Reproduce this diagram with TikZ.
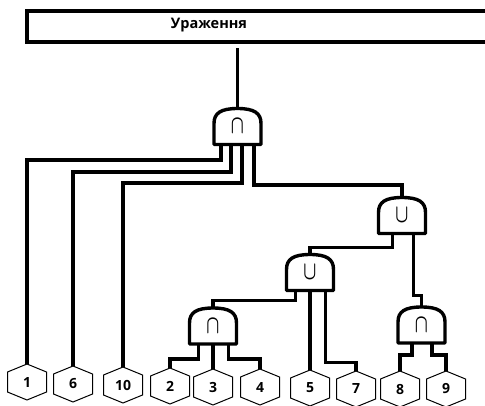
\documentclass[tikz,border=0pt]{standalone}
\usepackage{fontspec}
\setmainfont{Open Sans}
\usepackage{graphicx}
\usetikzlibrary{calc}
\newcommand\gatecap{\scalebox{1.7}[2.6]{\boldmath$\cap$}}
\newcommand\gatecup{\scalebox{1.7}[2.6]{\boldmath$\cup$}}
\begin{document}
\begin{tikzpicture}[x=1pt,y=-1pt,
  wire/.style={line width=3.2pt},
  barline/.style={line width=4pt},
  gateline/.style={line width=3.4pt, line join=round},
  hexline/.style={line width=1pt, line join=miter},
  gate/.style={minimum width=47pt, minimum height=36pt, inner sep=0pt, outer sep=0pt},
  hexn/.style={minimum width=39pt, minimum height=36pt, inner sep=0pt, outer sep=0pt,
    font=\bfseries\fontsize{14}{14}\selectfont},
  titlefont/.style={inner sep=0pt, font=\bfseries\fontsize{14.5}{14.5}\selectfont}]
\useasboundingbox (0,0) rectangle (485,405);

% title bar
\draw[barline] (485,11) -- (27,11) -- (27,42) -- (485,42);
\node[titlefont] (title) at (209,25) {Ураження};
\coordinate (barout) at (237.5,48);

% gates
\node[gate] (g1) at (237.5,126.5) {\gatecap};
\node[gate] (u1) at (402,215.5) {\gatecup};
\node[gate] (u2) at (310,272.5) {\gatecup};
\node[gate] (a2) at (213,326) {\gatecap};
\node[gate] (a3) at (421.5,325) {\gatecap};

% leaves
\node[hexn] (h1) at (27,382) {1};
\node[hexn] (h6) at (73,384) {6};
\node[hexn] (h10) at (123,385) {10};
\node[hexn] (h2) at (170,386) {2};
\node[hexn] (h3) at (213,387) {3};
\node[hexn] (h4) at (260,387) {4};
\node[hexn] (h5) at (310,388) {5};
\node[hexn] (h7) at (356,389) {7};
\node[hexn] (h8) at (400,389) {8};
\node[hexn] (h9) at (446,389) {9};

\foreach \g in {g1,u1,u2,a2,a3}
  \draw[gateline] (\g.south west) -- ($(\g.south west)+(0,-21)$)
    .. controls +(0,-10.5) and +(-16.5,0) .. (\g.north)
    .. controls +(16.5,0) and +(0,-10.5) .. ($(\g.south east)+(0,-21)$)
    -- (\g.south east) -- cycle;

\foreach \h in {h1,h6,h10,h2,h3,h4,h5,h7,h8,h9}
  \draw[hexline] (\h.north) -- ($(\h.east)+(0,-10)$) -- ($(\h.east)+(0,10)$)
    -- (\h.south) -- ($(\h.west)+(0,10)$) -- ($(\h.west)+(0,-10)$) -- cycle;

% connectors
\draw[wire] (barout) -- (g1.north);
\draw[wire] ($(g1.south west)+(7,0)$) -- ++(0,15.5) -| (h1.north);
\draw[wire] ($(g1.south west)+(17,0)$) -- ++(0,27.5) -| (h6.north);
\draw[wire] ($(g1.south west)+(28,0)$) -- ++(0,38.5) -| (h10.north);
\draw[wire] ($(g1.south west)+(40,0)$) -- ++(0,40.5) -| (u1.north);

\draw[wire] ($(u1.south west)+(14,0)$) -- ++(0,14) -| (u2.north);
\draw[wire] ($(u1.south west)+(35,0)$) -- ++(0,62) -| (a3.north);

\draw[wire] ($(u2.south west)+(9,0)$) -- ++(0,10) -| (a2.north);
\draw[wire] (u2.south) -- (h5.north);
\draw[wire] ($(u2.south west)+(39,0)$) -- ++(0,72) -| (h7.north);

\draw[wire] ($(a2.south west)+(9,0)$) -- ++(0,15) -| (h2.north);
\draw[wire] (a2.south) -- (h3.north);
\draw[wire] ($(a2.south west)+(39,0)$) -- ++(0,15) -| (h4.north);

\draw[wire] ($(a3.south west)+(14,0)$) -- ++(0,12) -| (h8.north);
\draw[wire] ($(a3.south west)+(34,0)$) -- ++(0,12) -| (h9.north);
\end{tikzpicture}
\end{document}
